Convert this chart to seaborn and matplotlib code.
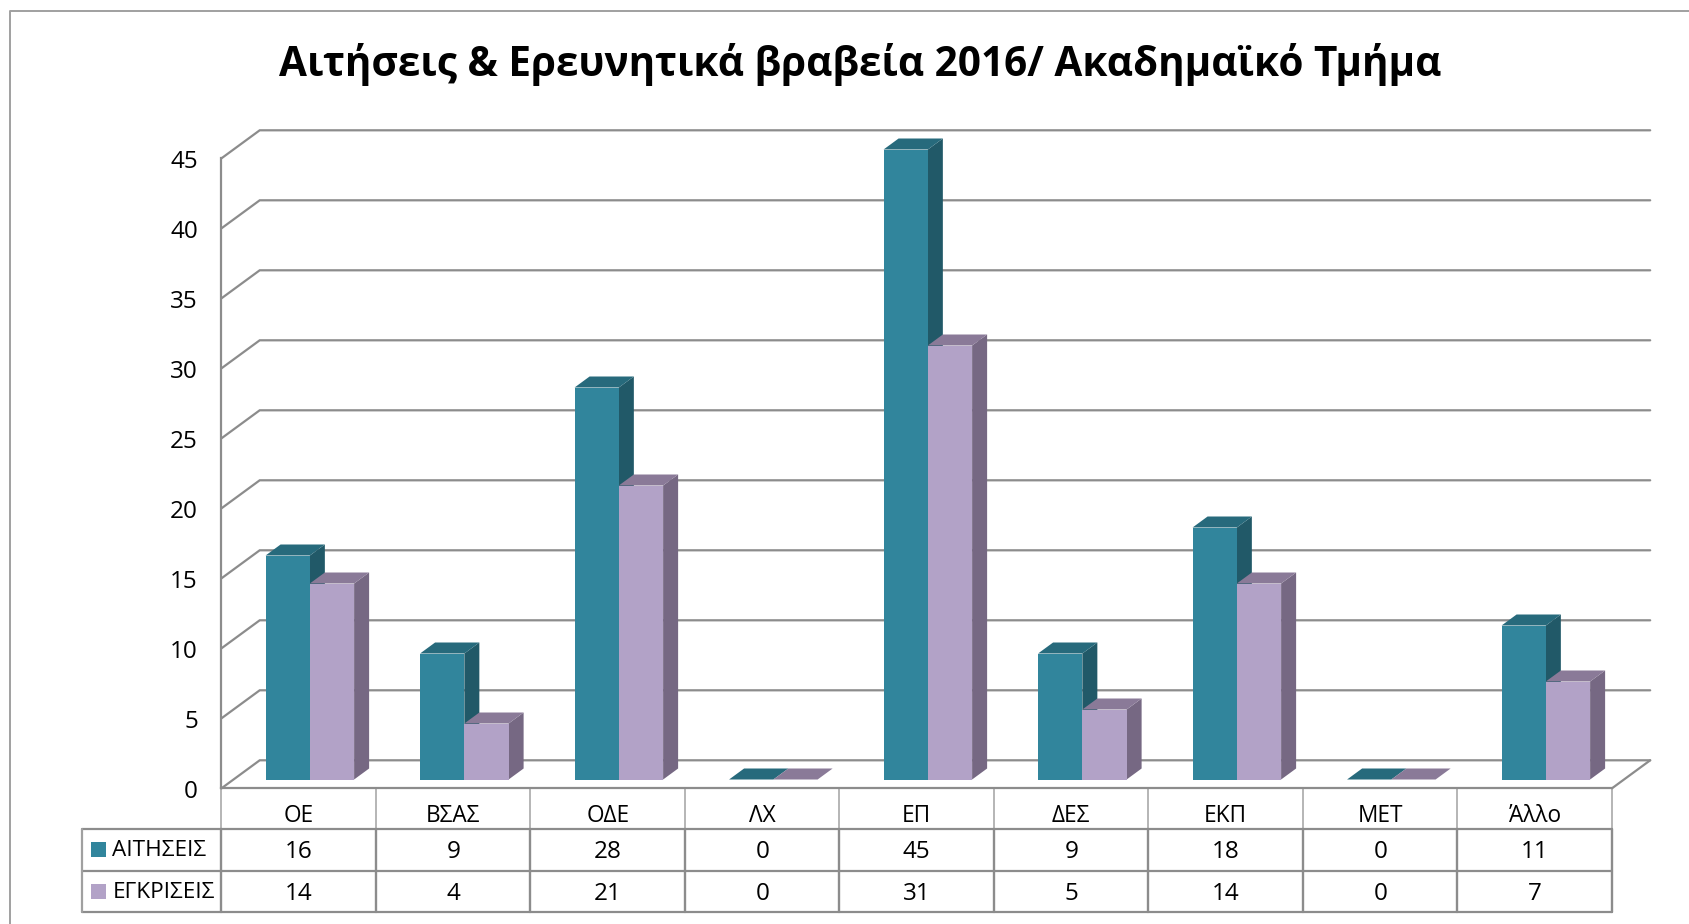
# plot.py
# 3D looking Excel style column chart with a data table underneath

import pandas as pd
import matplotlib.pyplot as plt
from matplotlib.patches import Polygon, Rectangle
from matplotlib.transforms import ScaledTranslation
import seaborn as sns

departments = ["ΟΕ", "ΒΣΑΣ", "ΟΔΕ", "ΛΧ", "ΕΠ", "ΔΕΣ", "ΕΚΠ", "ΜΕΤ", "Άλλο"]
applications = [16, 9, 28, 0, 45, 9, 18, 0, 11]
approvals = [14, 4, 21, 0, 31, 5, 14, 0, 7]
series_names = ["ΑΙΤΗΣΕΙΣ", "ΕΓΚΡΙΣΕΙΣ"]
y_ticks = [0, 5, 10, 15, 20, 25, 30, 35, 40, 45]
title = "Αιτήσεις & Ερευνητικά βραβεία 2016/ Ακαδημαϊκό Τμήμα"

front_colors = ["#31859C", "#B2A2C7"]
side_colors = ["#215968", "#766883"]
top_colors = ["#276A7C", "#8A7A98"]
grey = "#8C8C8C"

W, H = 1690, 924
COL = 154.5   # category width, px
UNIT = 14.0   # px per value

sns.set_theme(style="white")
plt.rcParams["font.family"] = ["Open Sans", "DejaVu Sans"]

df = pd.DataFrame({
    "dept": departments * 2,
    "series": [series_names[0]] * 9 + [series_names[1]] * 9,
    "value": applications + approvals,
})

fig = plt.figure(figsize=(W / 100, H / 100), dpi=100, facecolor="white")


def px_axes(left, base):
    # axes whose x -0.5..8.5 and y 0..45 sit at the given pixel position
    return fig.add_axes([left / W, (H - base) / H, COL * 9 / W, UNIT * 45 / H])


# pixel overlay for frame and table
ax_px = fig.add_axes([0, 0, 1, 1], zorder=0)
ax_px.set_xlim(0, W)
ax_px.set_ylim(H, 0)
ax_px.axis("off")

# front wall, real y axis
ax_wall = px_axes(221.5, 788.3)
ax_wall.set_zorder(1)
ax_wall.patch.set_alpha(0)
ax_wall.set_xlim(-0.5, 8.5)
ax_wall.set_ylim(0, 45)
ax_wall.set_xticks([])
ax_wall.set_yticks(y_ticks)
ax_wall.tick_params(axis="y", length=0, pad=17, labelsize=17.5, labelcolor="black")
# labels sit a little below their gridline in the original
label_shift = ScaledTranslation(0, -0.8 / 100, fig.dpi_scale_trans)
for lab in ax_wall.get_yticklabels():
    lab.set_transform(lab.get_transform() + label_shift)
for s in ["top", "right"]:
    ax_wall.spines[s].set_visible(False)
for s in ["left", "bottom"]:
    ax_wall.spines[s].set_color(grey)
    ax_wall.spines[s].set_linewidth(1.6)

# back wall lines
dx = 38.2 / COL
dy = 28 / UNIT
for v in y_ticks:
    ax_wall.plot([-0.5, -0.5 + dx, 8.5 + dx], [v, v + dy, v + dy], color=grey, lw=1.6,
                 clip_on=False, solid_joinstyle="miter")
ax_wall.plot([8.5, 8.5 + dx], [0, dy], color=grey, lw=1.6, clip_on=False)

# bars on their own plane, in front of the wall
ax = px_axes(232.6, 779.5)
ax.set_zorder(2)
ax.patch.set_alpha(0)
sns.barplot(data=df, x="dept", y="value", hue="series", order=departments,
            hue_order=series_names, palette=front_colors, width=0.573, gap=0,
            saturation=1, legend=False, linewidth=0, edgecolor="none", ax=ax)
ax.set_xlim(-0.5, 8.5)
ax.set_ylim(0, 45)
ax.axis("off")

ddx = 15 / COL
ddy = 11 / UNIT
z = 3
for k, bars in enumerate(ax.containers):
    for bar in bars:
        x0 = bar.get_x()
        x1 = x0 + bar.get_width()
        h = bar.get_height()
        side = [(x1, 0), (x1 + ddx, ddy), (x1 + ddx, h + ddy), (x1, h)]
        top = [(x0, h), (x0 + ddx, h + ddy), (x1 + ddx, h + ddy), (x1, h)]
        if h > 0:
            ax.add_patch(Polygon(side, closed=True, fc=side_colors[k], ec="none", zorder=z, clip_on=False))
        ax.add_patch(Polygon(top, closed=True, fc=top_colors[k], ec="none", zorder=z, clip_on=False))
        bar.set_zorder(z + 1)
        bar.set_clip_on(False)
    z += 2

# outer frame
ax_px.plot([10, 10, W], [H, 11, 11], color="#A0A0A0", lw=1.4, clip_on=False)

# data table
col_x = [221.5 + COL * i for i in range(10)]
rows_y = [829.3, 871, 912.3]
for x in col_x:
    ax_px.plot([x, x], [788.3, rows_y[0]], color="#B0B0B0", lw=1.3)
    ax_px.plot([x, x], [rows_y[0], rows_y[2]], color=grey, lw=1.7)
for y in rows_y:
    ax_px.plot([82, col_x[-1]], [y, y], color=grey, lw=1.6)
ax_px.plot([82, 82], [rows_y[0], rows_y[2]], color="#A0A0A0", lw=1.6)

for i, name in enumerate(departments):
    cx = col_x[i] + COL / 2
    ax_px.text(cx, 815.5, name, ha="center", va="center", fontsize=16.3, color="black")
    ax_px.text(cx, 851.5, str(applications[i]), ha="center", va="center", fontsize=17.5, color="black")
    ax_px.text(cx, 893.5, str(approvals[i]), ha="center", va="center", fontsize=17.5, color="black")

for k, y in enumerate([849.5, 891.5]):
    ax_px.add_patch(Rectangle((91, y - 7.5), 15, 15, fc=front_colors[k], ec="none"))
    ax_px.text(112.5, y + 1, series_names[k], ha="left", va="center", fontsize=16.2, color="black")

ax_px.text(860, 65, title, ha="center", va="center", fontsize=29.2, fontweight="bold", color="black")

fig.savefig("out.png", dpi=100)
